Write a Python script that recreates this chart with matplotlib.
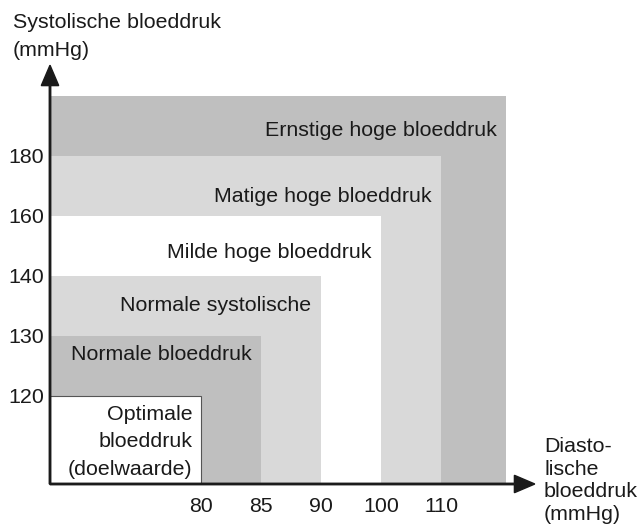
import matplotlib
matplotlib.use('Agg')
import matplotlib.pyplot as plt
from matplotlib.patches import Rectangle

plt.rcParams['font.family'] = 'Liberation Sans'

# bloeddrukklassen, van buiten naar binnen
classes = ['Ernstige hoge bloeddruk', 'Matige hoge bloeddruk', 'Milde hoge bloeddruk',
           'Normale systolische', 'Normale bloeddruk', 'Optimale\nbloeddruk\n(doelwaarde)']
diastolic = [80, 85, 90, 100, 110]     # mmHg, x-as
systolic = [120, 130, 140, 160, 180]   # mmHg, y-as
fills = ['#bfbfbf', '#d9d9d9', '#ffffff', '#d9d9d9', '#bfbfbf', '#ffffff']

ink = '#1a1a1a'
fs = 15.4

# grenzen op gelijke afstanden, 1 eenheid = 60 px
x_pos = [2.52 + i for i in range(len(diastolic))]
y_pos = [1.47 + i for i in range(len(systolic))]
x_edges = (x_pos + [7.6])[::-1]
y_edges = (y_pos + [6.47])[::-1]
label_drop = [0.67, 0.77, 0.70, 0.58, 0.40]

fig = plt.figure(figsize=(6.39, 5.26), dpi=100)
ax = fig.add_axes([50 / 639, 42 / 526, 589 / 639, 484 / 526])
ax.set_xlim(0, 589 / 60)
ax.set_ylim(0, 484 / 60)

for k, name in enumerate(classes):
    w, h = x_edges[k], y_edges[k]
    last = k == len(classes) - 1
    ax.add_patch(Rectangle((0, 0), w, h, facecolor=fills[k],
                           edgecolor='#555555' if last else 'none',
                           lw=0.8 if last else 0, zorder=1 + k))
    if last:
        ax.text(w - 0.15, (484 - 404.5) / 60, name, ha='right', va='top',
                multialignment='right', linespacing=1.57, fontsize=fs,
                color=ink, zorder=10)
    else:
        ax.text(w - 0.16, h - label_drop[k], name, ha='right', va='baseline',
                fontsize=fs, color=ink, zorder=10)

# assen met pijlen
ax.arrow(0, 0, 0, 6.98, width=0.024, head_width=0.29, head_length=0.34,
         length_includes_head=True, color=ink, clip_on=False, zorder=20)
ax.arrow(0, 0, 8.08, 0, width=0.024, head_width=0.29, head_length=0.34,
         length_includes_head=True, color=ink, clip_on=False, zorder=20)

ax.set_xticks(x_pos, [str(v) for v in diastolic])
ax.set_yticks(y_pos, [str(v) for v in systolic])
ax.tick_params(axis='both', length=0, labelsize=fs, labelcolor=ink)
ax.tick_params(axis='x', pad=9)
ax.tick_params(axis='y', pad=4.3)
for s in ax.spines.values():
    s.set_visible(False)
ax.patch.set_alpha(0)

fig.text(13 / 639, 1 - 13.3 / 526, 'Systolische bloeddruk\n(mmHg)', ha='left',
         va='top', linespacing=1.57, fontsize=fs, color=ink)
fig.text(544 / 639, 1 - 437.3 / 526, 'Diasto-\nlische\nbloeddruk\n(mmHg)',
         ha='left', va='top', linespacing=1.23, fontsize=fs, color=ink)

fig.savefig('out.png', dpi=100)
